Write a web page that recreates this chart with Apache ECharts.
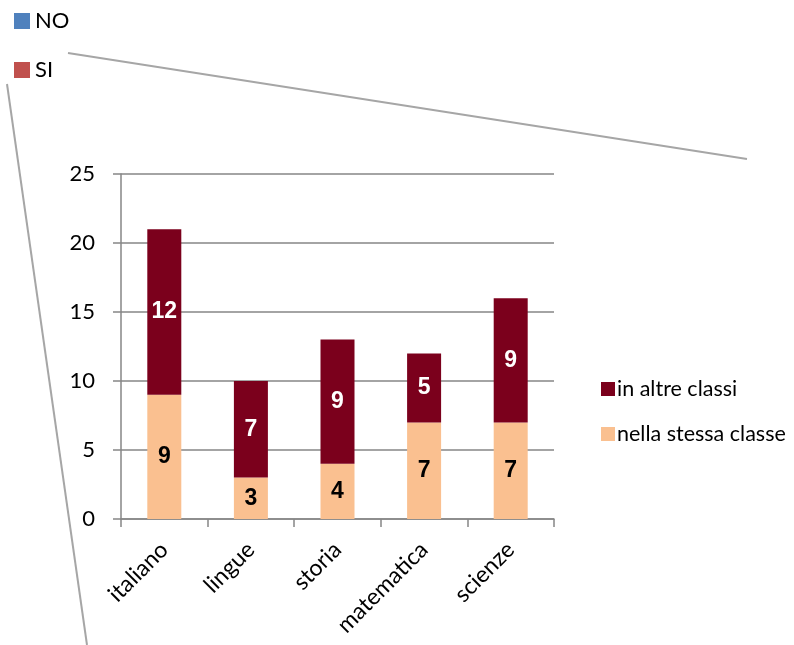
<!DOCTYPE html>
<html>
<head>
<meta charset="utf-8">
<script src="https://cdn.jsdelivr.net/npm/echarts@6/dist/echarts.min.js"></script>
<style>
html,body{margin:0;padding:0;background:#fff;}
#chart{width:794px;height:645px;}
</style>
</head>
<body>
<div id="chart"></div>
<script>
const categories = ['italiano', 'lingue', 'storia', 'matematica', 'scienze'];
const nellaStessaClasse = [9, 3, 4, 7, 7];
const inAltreClassi = [12, 7, 9, 5, 9];
const seriesNames = ['in altre classi', 'nella stessa classe'];
const topLegendLabels = ['NO', 'SI'];

const FONT = 'Lato, "Liberation Sans", sans-serif';
const BOLDFONT = '"Liberation Sans", "DejaVu Sans", sans-serif';
const axisGray = '#868686';

const chart = echarts.init(document.getElementById('chart'), null, {renderer: 'canvas'});

chart.setOption({
  animation: false,
  backgroundColor: '#ffffff',
  textStyle: {fontFamily: FONT},
  grid: {left: 121, right: 240, top: 174, bottom: 126},
  legend: {
    orient: 'vertical',
    left: 596,
    top: 373,
    itemWidth: 14,
    itemHeight: 14,
    itemGap: 23,
    icon: 'rect',
    data: seriesNames,
    textStyle: {fontFamily: FONT, fontSize: 21.5, color: '#000', lineHeight: 22, padding: [0,0,0,-3]}
  },
  xAxis: {
    type: 'category',
    data: categories,
    axisLine: {lineStyle: {color: axisGray, width: 1.5}},
    axisTick: {show: true, length: 8, alignWithLabel: false, lineStyle: {color: axisGray, width: 1.5}},
    axisLabel: {rotate: 45, fontSize: 23, color: '#000', margin: 27, fontFamily: FONT}
  },
  yAxis: {
    type: 'value',
    min: 0,
    max: 25,
    interval: 5,
    axisLine: {show: true, lineStyle: {color: axisGray, width: 1.5}},
    axisTick: {show: true, length: 8, lineStyle: {color: axisGray, width: 1.5}},
    splitLine: {show: true, lineStyle: {color: axisGray, width: 1.5}},
    axisLabel: {fontSize: 22, color: '#000', margin: 26, fontFamily: FONT}
  },
  series: [
    {
      name: 'nella stessa classe',
      type: 'bar',
      stack: 'tot',
      barWidth: 34,
      data: nellaStessaClasse,
      itemStyle: {color: '#FAC090'},
      label: {show: true, position: 'inside', color: '#000', fontWeight: 'bold', fontSize: 23, fontFamily: BOLDFONT}
    },
    {
      name: 'in altre classi',
      type: 'bar',
      stack: 'tot',
      barWidth: 34,
      data: inAltreClassi,
      itemStyle: {color: '#7B001C'},
      label: {show: true, position: 'inside', color: '#fff', fontWeight: 'bold', fontSize: 23, fontFamily: BOLDFONT}
    }
  ],
  graphic: [
    {type: 'line', shape: {x1: 68, y1: 53, x2: 747, y2: 159}, style: {stroke: '#A6A6A6', lineWidth: 2}},
    {type: 'line', shape: {x1: 7, y1: 84, x2: 87, y2: 645}, style: {stroke: '#A6A6A6', lineWidth: 2}},
    {type: 'rect', shape: {x: 14, y: 13, width: 16, height: 16}, style: {fill: '#4F81BD'}},
    {type: 'text', x: 35, y: 21, style: {text: topLegendLabels[0], font: '22px ' + FONT, fill: '#000', textVerticalAlign: 'middle', verticalAlign: 'middle'}},
    {type: 'rect', shape: {x: 14, y: 62, width: 16, height: 16}, style: {fill: '#C0504D'}},
    {type: 'text', x: 35, y: 70, style: {text: topLegendLabels[1], font: '22px ' + FONT, fill: '#000', textVerticalAlign: 'middle', verticalAlign: 'middle'}}
  ]
});
</script>
</body>
</html>
